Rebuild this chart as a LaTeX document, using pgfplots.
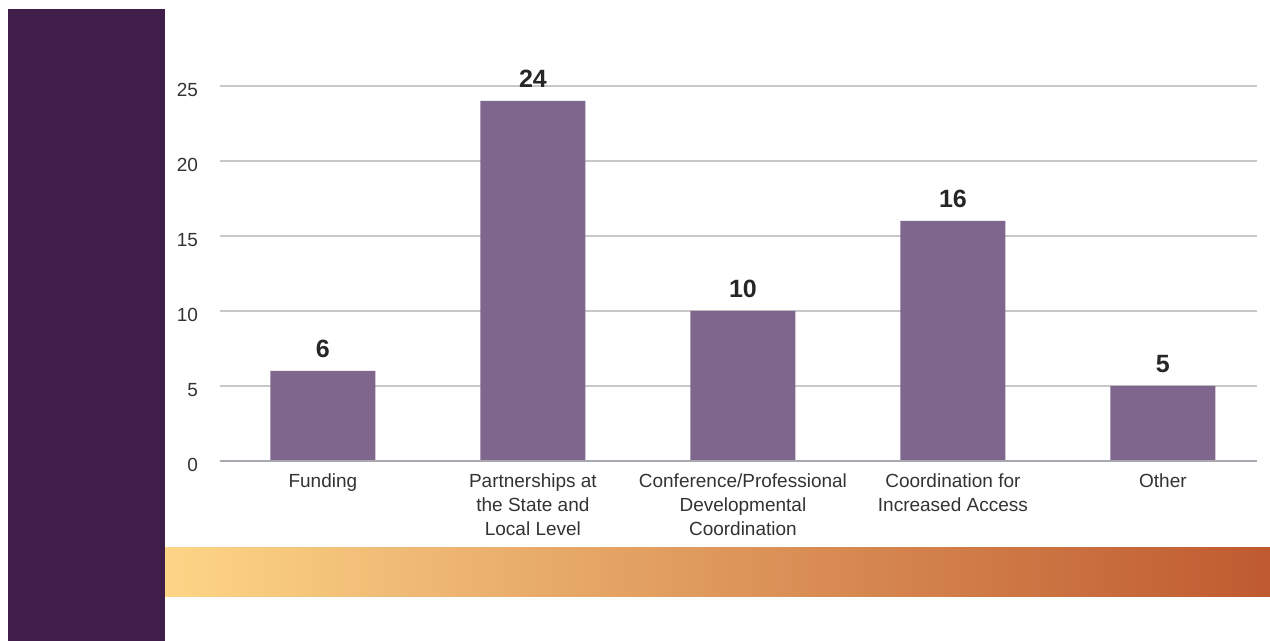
\documentclass[border=0pt]{standalone}
\usepackage{pgfplots}
\pgfplotsset{compat=1.18}
\usepackage{fontspec}
\setmainfont{Liberation Sans}
\definecolor{darkpurp}{HTML}{3F1E4A}
\definecolor{barpurp}{HTML}{7F668C}
\definecolor{gridgray}{HTML}{C8C8C8}
\definecolor{axgray}{HTML}{A8A8B0}
\definecolor{txt}{HTML}{333333}
\definecolor{gA}{HTML}{FDD587}
\definecolor{gB}{HTML}{DE955A}
\definecolor{gC}{HTML}{BF5A30}
\begin{document}
\begin{tikzpicture}
\useasboundingbox (0,0) rectangle (635pt,320.5pt);
\fill[white] (0,0) rectangle (635pt,320.5pt);
\fill[darkpurp] (4pt,0) rectangle (82.5pt,316pt);
\shade[left color=gA, middle color=gB, right color=gC] (82.5pt,22pt) rectangle (635pt,46.5pt);
\begin{axis}[
  at={(110pt,90pt)}, anchor=south west,
  scale only axis, width=518.5pt, height=187.5pt,
  xmin=-0.490, xmax=4.448, ymin=0, ymax=25,
  axis line style={draw=none},
  ytick={0,5,10,15,20,25},
  ymajorgrids, grid style={gridgray, line width=0.6pt},
  major tick length=0pt,
  xtick={0,1,2,3,4},
  xticklabels={Funding,{Partnerships at\\the State and\\Local Level},{Conference/Professional\\Developmental\\Coordination},{Coordination for\\Increased Access},Other},
  x tick label style={align=center, font=\fontsize{9.5}{12}\selectfont, text=txt, yshift=-3pt},
  y tick label style={font=\fontsize{9.5}{12}\selectfont, text=txt, xshift=-7.5pt, yshift=-2pt},
  /pgf/number format/assume math mode=true,
  clip=false,
  nodes near coords,
  every node near coord/.append style={font=\fontsize{12.5}{14}\bfseries\selectfont, text=black!85, yshift=3pt},
]
\addplot[ybar, bar width=52.5pt, fill=barpurp, draw=none] coordinates {(0,6) (1,24) (2,10) (3,16) (4,5)};
\draw[axgray, line width=0.8pt] (axis cs:-0.490,0) -- (axis cs:4.448,0);
\end{axis}
\end{tikzpicture}
\end{document}
